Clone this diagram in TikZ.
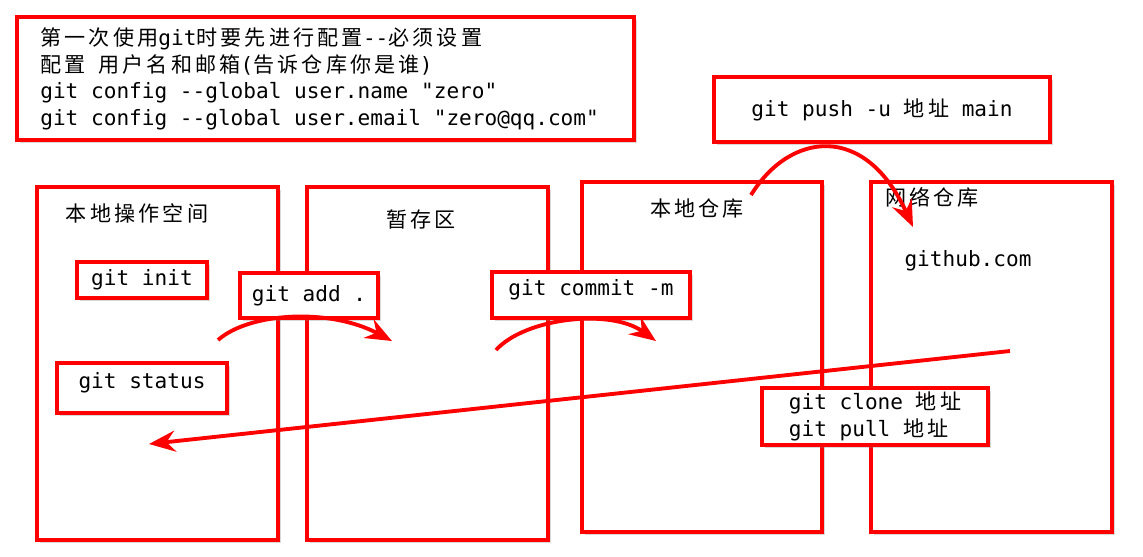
\documentclass[tikz,border=0pt]{standalone}
\usepackage{fontspec}
\setmonofont{DejaVu Sans Mono}
\newfontfamily\cjk[LetterSpace=15]{Noto Sans CJK SC}
\newcommand{\zh}[1]{{\cjk #1}}
\usetikzlibrary{arrows.meta,shadows}

\begin{document}
\begin{tikzpicture}[x=0.02cm, y=-0.02cm,
  font=\ttfamily\fontsize{12pt}{15.3pt}\selectfont,
  redbox/.style={draw=red, line width=2.2pt, fill=white, inner sep=0pt,
    drop shadow={shadow xshift=1.5pt, shadow yshift=-1.5pt, opacity=0.3}},
  area/.style={redbox, minimum width=4.82cm, minimum height=7.06cm},
  flow/.style={draw=red, line width=2.2pt, -{Stealth[length=15pt, width=12pt, inset=5pt]}}]
  \useasboundingbox (0,0) rectangle (1143,556);

  % config note
  \node[redbox, minimum width=12.34cm, minimum height=2.46cm] (cfg) at (325.5,78.5) {};
  \node[anchor=north west, align=left, inner sep=0pt] (cfgtext) at (40,27)
    {\zh{第一次使用}git\zh{时要先进行配置}--\zh{必须设置}\\
     \zh{配置} \zh{用户名和邮箱}(\zh{告诉仓库你是谁})\\
     git config --global user.name "zero"\\
     git config --global user.email "zero@qq.com"};

  % the four areas
  \node[area] (work) at (157.5,363.5) {};
  \node[area] (stage) at (427.5,363.5) {};
  \node[area, minimum width=4.8cm, minimum height=7cm] (local) at (702,357) {};
  \node[area, minimum height=7cm] (remote) at (991.5,357) {};
  \node (worklbl) at (137,213) {\zh{本地操作空间}};
  \node (stagelbl) at (421,219) {\zh{暂存区}};
  \node (locallbl) at (697,209) {\zh{本地仓库}};
  \node (remotelbl) at (932,197) {\zh{网络仓库}};
  \node (site) at (968,261) {github.com};

  % commands
  \node[redbox, minimum width=2.6cm, minimum height=0.72cm] (init) at (142,280) {git init};
  \node[redbox, minimum width=3.4cm, minimum height=1cm, text depth=9pt] (status) at (142,388) {git status\hspace{12pt}};
  \node[redbox, minimum width=2.76cm, minimum height=0.9cm] (add) at (309,295.5) {git add .};
  \node[redbox, minimum width=3.96cm, minimum height=0.92cm, text depth=9pt] (commit) at (591,295) {git commit -m};
  \node[redbox, minimum width=6.72cm, minimum height=1.3cm] (push) at (882,109.5) {git push -u \zh{地址} main};
  \node[redbox, align=left, minimum width=4.52cm, minimum height=1.14cm] (pull) at (875,416.5)
    {git clone \zh{地址}\\git pull \zh{地址}};

  % arrows
  \coordinate (addS) at (218,340);
  \coordinate (addE) at (392,341);
  \coordinate (comS) at (496,350);
  \coordinate (comE) at (656,341);
  \coordinate (pushS) at (751,195);
  \coordinate (pushE) at (913,227);
  \coordinate (pullS) at (1010,351);
  \coordinate (pullE) at (149,444);
  \draw[flow] (addS) .. controls (250,312) and (330,308) .. (addE);
  \draw[flow] (comS) .. controls (525,318) and (610,308) .. (comE);
  \draw[flow] (pushS) .. controls (790,132) and (865,122) .. (pushE);
  \draw[flow] (pullS) -- (pullE);
\end{tikzpicture}
\end{document}
